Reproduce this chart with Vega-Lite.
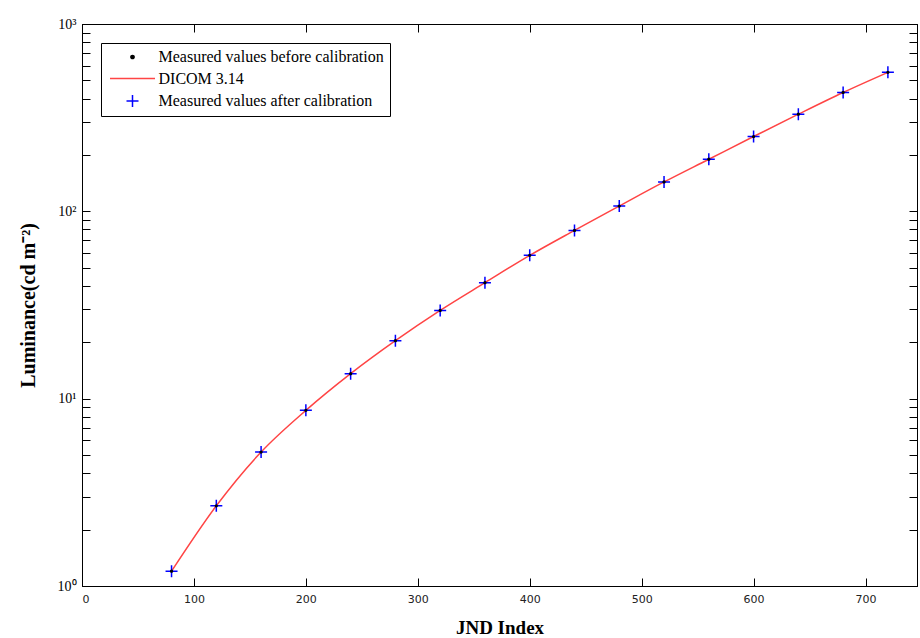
{
  "$schema": "https://vega.github.io/schema/vega-lite/v6.json",
  "width": 835,
  "height": 562,
  "autosize": "none",
  "padding": {"left": 82, "top": 24, "right": 3, "bottom": 52},
  "background": "white",
  "config": {
    "view": {"stroke": "black", "strokeWidth": 1},
    "axis": {"domainColor": "black", "domainWidth": 1, "tickColor": "black", "tickWidth": 1, "grid": false, "labelOverlap": false},
    "legend": {
      "orient": "top-left",
      "offset": 19,
      "strokeColor": "black",
      "fillColor": "white",
      "padding": 6,
      "columns": 1,
      "labelFont": "Liberation Serif",
      "labelFontSize": 16,
      "labelColor": "black",
      "labelLimit": 400,
      "symbolSize": 144,
      "symbolStrokeWidth": 1.5,
      "symbolOffset": 17.5,
      "labelOffset": 18,
      "rowPadding": 5.5
    }
  },
  "data": {
    "values": [
      {"jnd": 80, "before": 1.20, "dicom": 1.20, "after": 1.20},
      {"jnd": 120, "before": 2.68, "dicom": 2.68, "after": 2.68},
      {"jnd": 160, "before": 5.19, "dicom": 5.19, "after": 5.19},
      {"jnd": 200, "before": 8.66, "dicom": 8.66, "after": 8.66},
      {"jnd": 240, "before": 13.6, "dicom": 13.6, "after": 13.6},
      {"jnd": 280, "before": 20.4, "dicom": 20.4, "after": 20.4},
      {"jnd": 320, "before": 29.6, "dicom": 29.6, "after": 29.6},
      {"jnd": 360, "before": 41.6, "dicom": 41.6, "after": 41.6},
      {"jnd": 400, "before": 58.2, "dicom": 58.2, "after": 58.2},
      {"jnd": 440, "before": 79.1, "dicom": 79.1, "after": 79.1},
      {"jnd": 480, "before": 106.7, "dicom": 106.7, "after": 106.7},
      {"jnd": 520, "before": 143.5, "dicom": 143.5, "after": 143.5},
      {"jnd": 560, "before": 189.7, "dicom": 189.7, "after": 189.7},
      {"jnd": 600, "before": 250.8, "dicom": 250.8, "after": 250.8},
      {"jnd": 640, "before": 330, "dicom": 330, "after": 330},
      {"jnd": 680, "before": 431, "dicom": 431, "after": 431},
      {"jnd": 720, "before": 552, "dicom": 552, "after": 552}
    ]
  },
  "layer": [
    {
      "mark": {"type": "line", "strokeWidth": 1.5, "interpolate": "monotone"},
      "encoding": {
        "x": {
          "field": "jnd", "type": "quantitative",
          "scale": {"domain": [0, 746], "nice": false, "zero": false},
          "axis": {
            "orient": "bottom",
            "values": [0, 100, 200, 300, 400, 500, 600, 700],
            "tickSize": -8,
            "labelFont": "DejaVu Sans", "labelFontSize": 11, "labelColor": "#222", "labelPadding": 15,
            "title": "JND Index",
            "titleFont": "Liberation Serif", "titleFontSize": 19, "titleFontWeight": "bold", "titleColor": "black",
            "titleBaseline": "alphabetic", "titleY": 47
          }
        },
        "y": {
          "field": "dicom", "type": "quantitative",
          "scale": {"type": "log", "domain": [1, 1000], "nice": false},
          "axis": {
            "orient": "left",
            "values": [1, 2, 3, 4, 5, 6, 7, 8, 9, 10, 20, 30, 40, 50, 60, 70, 80, 90, 100, 200, 300, 400, 500, 600, 700, 800, 900, 1000],
            "tickSize": -8,
            "labelExpr": "datum.value === 1 ? '10⁰' : datum.value === 10 ? '10¹' : datum.value === 100 ? '10²' : datum.value === 1000 ? '10³' : ''",
            "labelFont": "Liberation Serif", "labelFontSize": 14, "labelColor": "black", "labelPadding": 14,
            "title": "Luminance(cd m⁻²)",
            "titleFont": "Liberation Serif", "titleFontSize": 20, "titleFontWeight": "bold", "titleColor": "black",
            "titleBaseline": "alphabetic", "titleX": -48,
            "encoding": {"ticks": {"update": {"x2": {"signal": "abs(log(datum.value)/LN10 - round(log(datum.value)/LN10)) < 0.001 ? 8 : 5"}}}}
          }
        },
        "color": {
          "datum": "DICOM 3.14",
          "scale": {"domain": ["Measured values before calibration", "DICOM 3.14", "Measured values after calibration"], "range": ["black", "#ff4444", "#0000ff"]},
          "legend": {
            "title": null,
            "encoding": {"symbols": {"update": {
              "fill": {"signal": "datum.value === 'Measured values before calibration' ? 'black' : 'transparent'"},
              "stroke": {"scale": "color", "field": "value"},
              "strokeWidth": {"value": 1.5},
              "opacity": {"value": 1}
            }}}
          }
        }
      }
    },
    {
      "mark": {"type": "point", "filled": false, "strokeWidth": 1.5, "size": 144, "opacity": 1},
      "encoding": {
        "x": {
          "field": "jnd", "type": "quantitative",
          "axis": {"orient": "top", "values": [0, 100, 200, 300, 400, 500, 600, 700], "tickSize": -8, "labels": false, "title": null}
        },
        "y": {
          "field": "after", "type": "quantitative",
          "axis": {
            "orient": "right",
            "values": [1, 2, 3, 4, 5, 6, 7, 8, 9, 10, 20, 30, 40, 50, 60, 70, 80, 90, 100, 200, 300, 400, 500, 600, 700, 800, 900, 1000],
            "tickSize": -8, "labels": false, "title": null,
            "encoding": {"ticks": {"update": {"x2": {"signal": "abs(log(datum.value)/LN10 - round(log(datum.value)/LN10)) < 0.001 ? -8 : -5"}}}}
          }
        },
        "color": {"datum": "Measured values after calibration"},
        "shape": {
          "datum": "Measured values after calibration",
          "scale": {"domain": ["Measured values before calibration", "DICOM 3.14", "Measured values after calibration"], "range": ["M0.27,0A0.27,0.27,0,1,1,-0.27,0A0.27,0.27,0,1,1,0.27,0Z", "M-3.75,0H3.75", "M-1,0H1M0,-1V1"]}
        }
      }
    },
    {
      "mark": {"type": "point", "filled": true, "size": 144, "opacity": 1},
      "encoding": {
        "x": {"field": "jnd", "type": "quantitative", "axis": null},
        "y": {"field": "before", "type": "quantitative", "axis": null},
        "color": {"datum": "Measured values before calibration"},
        "shape": {"datum": "Measured values before calibration"}
      }
    }
  ],
  "resolve": {"axis": {"x": "independent", "y": "independent"}}
}
